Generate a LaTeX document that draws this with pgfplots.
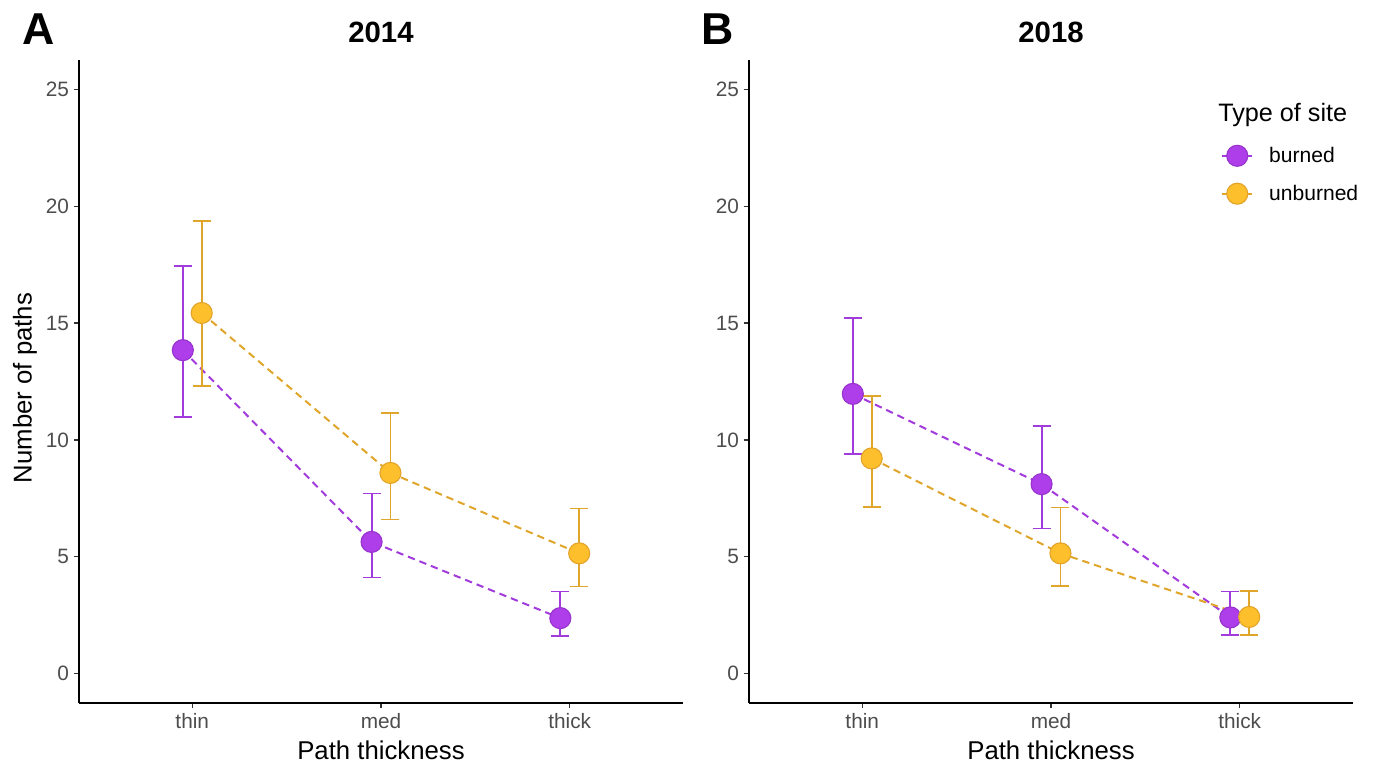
\documentclass[border=0pt]{standalone}
\usepackage{pgfplots}
\pgfplotsset{compat=1.18}
\usepackage{pgfplotstable}
\usepackage{fontspec}
\setmainfont{Liberation Sans}

\definecolor{burnline}{HTML}{A23BDB}
\definecolor{burnfill}{HTML}{AD3EEA}
\definecolor{burnedge}{HTML}{9732CC}
\definecolor{unline}{HTML}{DFA62B}
\definecolor{unfill}{HTML}{FDBF2B}
\definecolor{unedge}{HTML}{E3A32A}
\definecolor{tickgrey}{HTML}{4D4D4D}

% x = category position (thin=1, med=2, thick=3) with dodge, y = mean, ep/em = error up/down
\pgfplotstableread{
x y ep em
0.95 13.84 3.59 2.87
1.95 5.64 2.07 1.52
2.95 2.38 1.14 0.75
}\burnedA
\pgfplotstableread{
x y ep em
1.05 15.43 3.94 3.12
2.05 8.59 2.58 1.99
3.05 5.15 1.92 1.42
}\unburnedA
\pgfplotstableread{
x y ep em
0.95 11.97 3.26 2.56
1.95 8.11 2.47 1.90
2.95 2.41 1.11 0.75
}\burnedB
\pgfplotstableread{
x y ep em
1.05 9.21 2.66 2.07
2.05 5.15 1.96 1.39
3.05 2.43 1.12 0.77
}\unburnedB

\pgfplotsset{
  panel/.style={
    scale only axis, width=453pt, height=482.25pt, anchor=south west,
    xmin=0.4, xmax=3.6, ymin=-1.25, ymax=26.25,
    axis x line=bottom, axis y line=left,
    axis line style={-, line width=1.1pt, black},
    xtick={1,2,3}, xticklabels={thin,med,thick},
    ytick={0,5,10,15,20,25},
    tick align=outside, major tick length=4pt,
    tick style={line width=0.9pt, color=black!80},
    ticklabel style={font=\fontsize{15.6}{18}\selectfont, text=tickgrey},
    /pgf/number format/assume math mode=true,
    clip=false,
    title style={at={(0.5,1)}, anchor=center, yshift=15pt, font=\fontsize{22}{26}\selectfont\bfseries},
    every axis x label/.style={at={(axis description cs:0.5,0)}, anchor=center, yshift=-35.25pt, font=\fontsize{19.3}{22}\selectfont},
    every axis y label/.style={at={(axis description cs:0,0.49)}, rotate=90, anchor=center, yshift=40.5pt, font=\fontsize{19.3}{22}\selectfont},
    xlabel={Path thickness},
  },
  bline/.style={color=burnline, dashed, dash pattern=on 5.5pt off 3.75pt, line width=1.5pt, mark=none,
    error bars/y dir=both, error bars/y explicit,
    error bars/error bar style={solid, line width=1.4pt, color=burnline},
    error bars/error mark options={rotate=90, solid, line width=1.4pt, mark size=6.75pt, color=burnline}},
  uline/.style={color=unline, dashed, dash pattern=on 5.5pt off 3.75pt, line width=1.5pt, mark=none,
    error bars/y dir=both, error bars/y explicit,
    error bars/error bar style={solid, line width=1.4pt, color=unline},
    error bars/error mark options={rotate=90, solid, line width=1.4pt, mark size=6.75pt, color=unline}},
  bmark/.style={only marks, mark=*, mark size=7.9pt, mark options={solid, fill=burnfill, draw=burnedge, line width=0.8pt}},
  umark/.style={only marks, mark=*, mark size=7.9pt, mark options={solid, fill=unfill, draw=unedge, line width=0.8pt}},
}

\begin{document}
\begin{tikzpicture}
\useasboundingbox (0,0) rectangle (1032pt,571.5pt);

\begin{axis}[panel, at={(59.25pt,44.25pt)}, title={2014}, ylabel={Number of paths}]
  \addplot[bline] table[x=x, y=y, y error plus=ep, y error minus=em] {\burnedA};
  \addplot[uline] table[x=x, y=y, y error plus=ep, y error minus=em] {\unburnedA};
  \addplot[bmark] table[x=x, y=y] {\burnedA};
  \addplot[umark] table[x=x, y=y] {\unburnedA};
\end{axis}

\begin{axis}[panel, at={(561.75pt,44.25pt)}, title={2018},
  legend image code/.code={
    \draw[#1, mark=none, solid, line width=1.4pt] (0pt,0pt) -- (22.5pt,0pt);
    \draw[#1] plot coordinates {(11.25pt,0pt)};
  },
  legend style={draw=none, fill=none, at={(rel axis cs:0.7815,0.869)}, anchor=north west,
    font=\fontsize{15.8}{18}\selectfont, row sep=11.5pt, inner sep=0pt,
    /tikz/every odd column/.append style={column sep=10pt}},
  legend cell align=left]
  \addplot[bline, forget plot] table[x=x, y=y, y error plus=ep, y error minus=em] {\burnedB};
  \addplot[uline, forget plot] table[x=x, y=y, y error plus=ep, y error minus=em] {\unburnedB};
  \addplot[bmark, forget plot] table[x=x, y=y] {\burnedB};
  \addplot[umark, forget plot] table[x=x, y=y] {\unburnedB};
  \addlegendimage{color=burnline, bmark}
  \addlegendentry{burned}
  \addlegendimage{color=unline, umark}
  \addlegendentry{unburned}
  \node[anchor=base west, font=\fontsize{18.9}{22}\selectfont, inner sep=0pt] at (rel axis cs:0.7765,0.905) {Type of site};
\end{axis}

\node[font=\fontsize{33.5}{36}\selectfont\bfseries, anchor=center] at (29.25pt,549.75pt) {A};
\node[font=\fontsize{33.5}{36}\selectfont\bfseries, anchor=center] at (538.5pt,549.75pt) {B};
\end{tikzpicture}
\end{document}
